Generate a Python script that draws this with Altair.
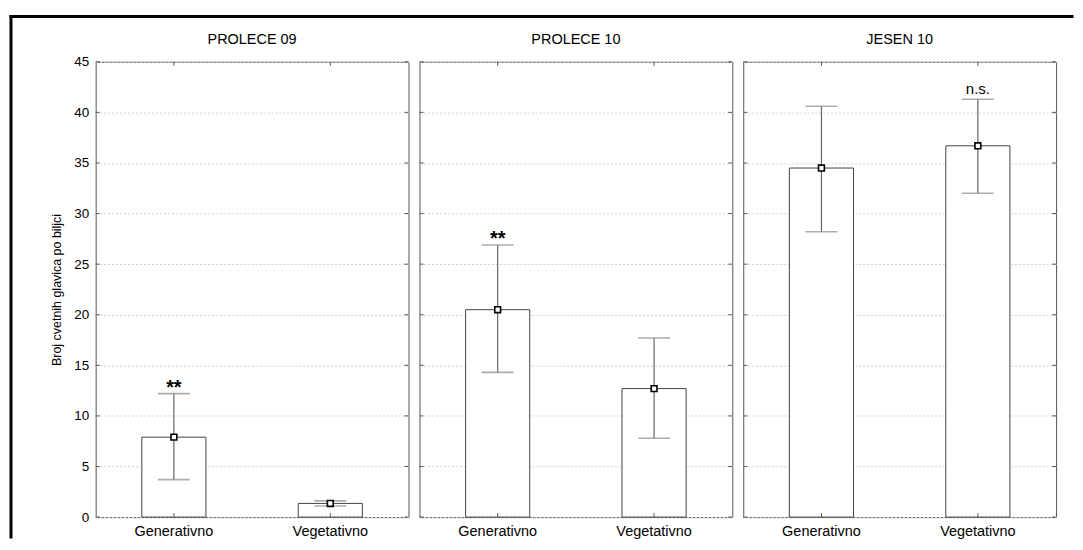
import altair as alt
import pandas as pd

seasons = ["PROLECE 09", "PROLECE 10", "JESEN 10"]
groups = ["Generativno", "Vegetativno"]
means = [[7.9, 1.35], [20.5, 12.7], [34.5, 36.7]]
lows = [[3.7, 1.1], [14.3, 7.8], [28.2, 32.0]]
highs = [[12.2, 1.6], [26.9, 17.7], [40.6, 41.3]]
notes = [["**", ""], ["**", ""], ["", "n.s."]]
y_ticks = [0, 5, 10, 15, 20, 25, 30, 35, 40, 45]
y_title = "Broj cvetnih glavica po biljci"

FONT = "Liberation Sans"
W, H = 314, 457


def panel(i):
    first = i == 0
    df = pd.DataFrame({"group": groups, "mean": means[i], "low": lows[i],
                       "high": highs[i], "note": notes[i]})
    tick_df = pd.DataFrame({"v": y_ticks})
    title_df = pd.DataFrame({"season": [seasons[i]]})
    base = alt.Chart(df)
    xenc = alt.X("group:N", sort=groups,
                 scale=alt.Scale(paddingInner=0.59, paddingOuter=0.295),
                 axis=alt.Axis(title=None, labelAngle=0, labelFontSize=14.5,
                               labelPadding=7, ticks=False, domain=False))
    yscale = alt.Scale(domain=[0, 45], nice=False)
    yenc = alt.Y("mean:Q", scale=yscale,
                 axis=alt.Axis(values=y_ticks, grid=True, gridDash=[2, 2],
                               gridColor="#d2d2d2", ticks=False, domain=False,
                               labels=first, labelFontSize=13.5, labelPadding=7,
                               title=y_title if first else None,
                               titleFontSize=12.5, titleFontWeight="normal",
                               titlePadding=10))
    bars = base.mark_bar(fill="white", stroke="#444", strokeWidth=1).encode(x=xenc, y=yenc)
    whisk = base.mark_rule(color="#666", strokeWidth=1.2).encode(
        x=alt.X("group:N", sort=groups),
        y=alt.Y("low:Q", scale=yscale), y2="high:Q")
    cap_lo = base.mark_tick(color="#8a8a8a", size=32, thickness=1.6).encode(
        x=alt.X("group:N", sort=groups), y=alt.Y("low:Q", scale=yscale))
    cap_hi = base.mark_tick(color="#8a8a8a", size=32, thickness=1.6).encode(
        x=alt.X("group:N", sort=groups), y=alt.Y("high:Q", scale=yscale))
    pt = base.mark_square(fill="white", stroke="black", strokeWidth=1.6,
                          size=34, opacity=1).encode(
        x=alt.X("group:N", sort=groups), y=alt.Y("mean:Q", scale=yscale))
    stars = base.transform_filter("datum.note == '**'").mark_text(
        font=FONT, fontSize=20, fontWeight="bold", baseline="alphabetic", dy=0,
        color="black").encode(
        x=alt.X("group:N", sort=groups), y=alt.Y("high:Q", scale=yscale), text="note:N")
    ns = base.transform_filter("datum.note == 'n.s.'").mark_text(
        font=FONT, fontSize=15, baseline="alphabetic", dy=-5,
        color="black").encode(
        x=alt.X("group:N", sort=groups), y=alt.Y("high:Q", scale=yscale), text="note:N")
    tl = alt.Chart(tick_df).mark_rule(color="#555").encode(
        y=alt.Y("v:Q", scale=yscale), x=alt.value(0), x2=alt.value(4))
    tr = alt.Chart(tick_df).mark_rule(color="#555").encode(
        y=alt.Y("v:Q", scale=yscale), x=alt.value(W - 4), x2=alt.value(W))
    tt = base.mark_rule(color="#555").encode(
        x=alt.X("group:N", sort=groups), y=alt.value(0), y2=alt.value(4))
    tb = base.mark_rule(color="#555").encode(
        x=alt.X("group:N", sort=groups), y=alt.value(H - 4), y2=alt.value(H))
    ttl = alt.Chart(title_df).mark_text(
        font=FONT, fontSize=14.5, baseline="alphabetic", align="center",
        color="black").encode(x=alt.value(W / 2), y=alt.value(-18), text="season:N")
    layers = [bars, whisk, cap_lo, cap_hi, pt, stars, ns, tl, tr, tt, tb, ttl]
    if first:
        one = pd.DataFrame({"k": [0]})
        fl = alt.Chart(one).mark_rule(color="black", strokeWidth=3, strokeCap="square").encode(
            x=alt.value(-85), y=alt.value(-45.5), y2=alt.value(477))
        ft = alt.Chart(one).mark_rule(color="black", strokeWidth=3, strokeCap="square").encode(
            x=alt.value(-85), x2=alt.value(980), y=alt.value(-45.5))
        layers += [fl, ft]
    return alt.layer(*layers).properties(width=W, height=H)


chart = alt.hconcat(panel(0), panel(1), panel(2), spacing=11, bounds="flush").properties(
    padding={"left": 0, "top": 4, "right": 0, "bottom": 0}
).configure_view(stroke="#555", strokeWidth=1).configure_axis(
    labelFont=FONT, titleFont=FONT, labelColor="black", titleColor="black"
)

chart.save("out.html", embed_options={"renderer": "svg", "actions": False})
